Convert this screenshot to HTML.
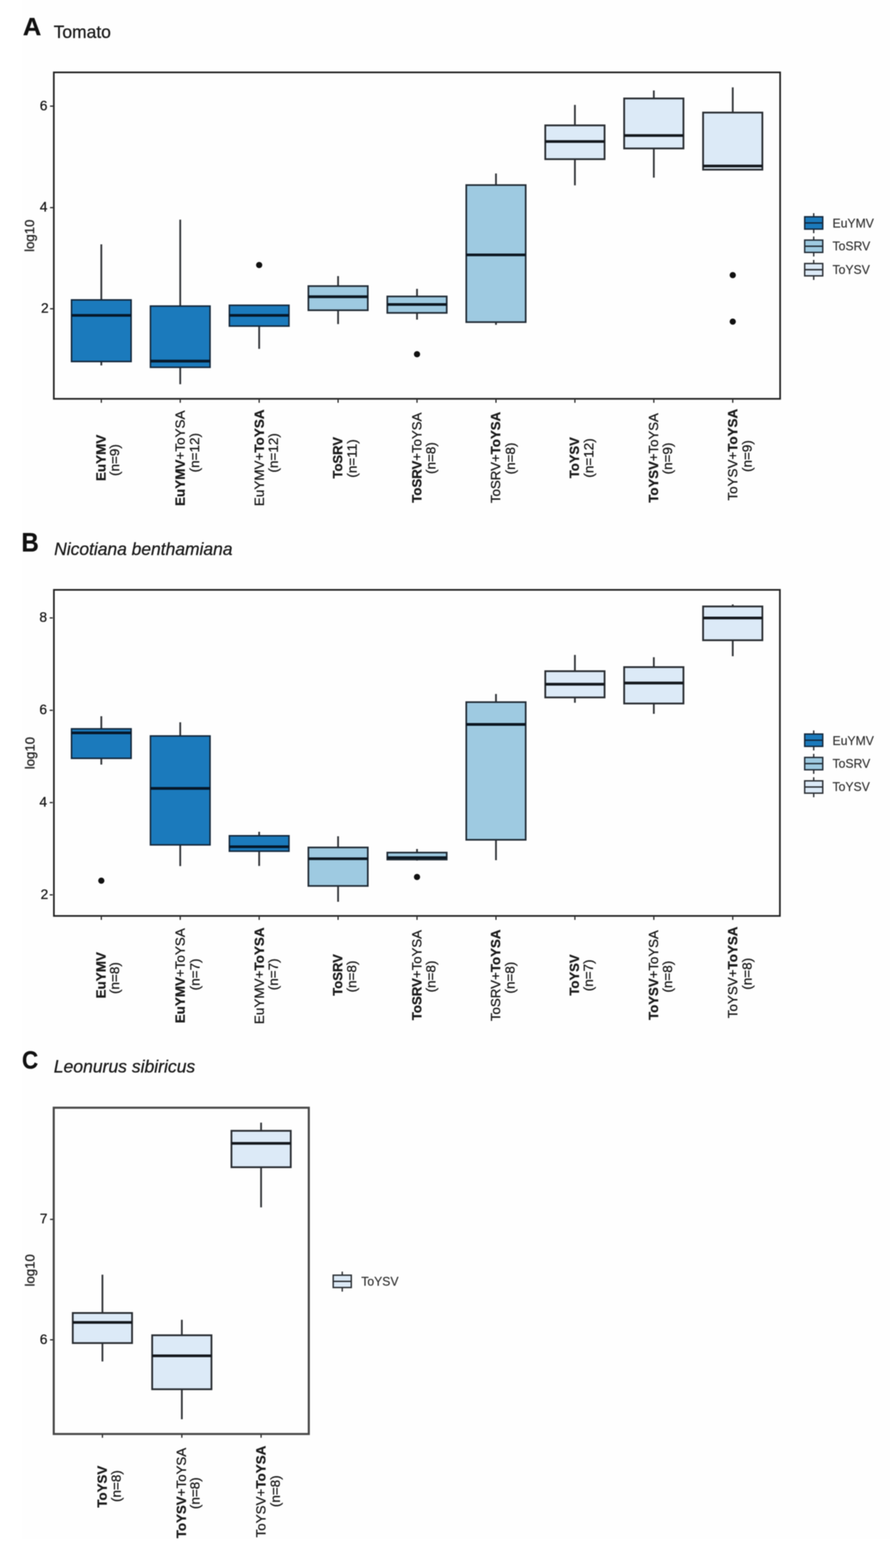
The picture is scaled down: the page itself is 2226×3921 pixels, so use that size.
<!DOCTYPE html>
<html lang="en">
<head>
<meta charset="utf-8">
<title>Viral titer boxplots: Tomato, Nicotiana benthamiana, Leonurus sibiricus</title>
<style>
html,body{margin:0;padding:0;background:#ffffff;}
body{width:2226px;height:3921px;overflow:hidden;}
svg{display:block;font-family:"Liberation Sans",Arial,Helvetica,sans-serif;}
#fig{filter:blur(0.9px);}
text{stroke:#1c1c1c;stroke-width:0.7px;paint-order:stroke fill;}
</style>
</head>
<body>
<svg width="2226" height="3921" viewBox="0 0 2226 3921">
<rect x="0" y="0" width="2226" height="3921" fill="#ffffff"/>
<rect x="56" y="0" width="2170" height="3848" fill="#fefefe"/>
<g id="fig">
<g id="panelA">
<text transform="translate(57.3 88.4) scale(1 1)" font-size="63.5" font-weight="bold" fill="#111">A</text>
<text x="134.3" y="94.8" font-size="43.6" fill="#1c1c1c">Tomato</text>
<line x1="253.4" y1="611.0" x2="253.4" y2="750.0" stroke="#34373b" stroke-width="4.5"/><line x1="253.4" y1="904.0" x2="253.4" y2="913.8" stroke="#34373b" stroke-width="4.5"/><rect x="178.9" y="750.0" width="149.0" height="154.0" fill="#1b7abc" stroke="#14283c" stroke-width="3.8"/><line x1="178.9" y1="788.7" x2="327.9" y2="788.7" stroke="#06182a" stroke-width="6.8"/>
<line x1="450.8" y1="549.2" x2="450.8" y2="765.4" stroke="#34373b" stroke-width="4.5"/><line x1="450.8" y1="918.5" x2="450.8" y2="960.8" stroke="#34373b" stroke-width="4.5"/><rect x="376.3" y="765.4" width="149.0" height="153.1" fill="#1b7abc" stroke="#14283c" stroke-width="3.8"/><line x1="376.3" y1="903.0" x2="525.3" y2="903.0" stroke="#06182a" stroke-width="6.8"/>
<line x1="648.2" y1="815.4" x2="648.2" y2="872.3" stroke="#34373b" stroke-width="4.5"/><rect x="573.7" y="763.4" width="149.0" height="52.0" fill="#1b7abc" stroke="#14283c" stroke-width="3.8"/><line x1="573.7" y1="788.7" x2="722.7" y2="788.7" stroke="#06182a" stroke-width="6.8"/><circle cx="648.2" cy="662.7" r="7.8" fill="#111"/>
<line x1="845.6" y1="690.4" x2="845.6" y2="715.4" stroke="#34373b" stroke-width="4.5"/><line x1="845.6" y1="775.8" x2="845.6" y2="810.4" stroke="#34373b" stroke-width="4.5"/><rect x="771.3" y="715.4" width="148.6" height="60.4" fill="#9ecae1" stroke="#222c36" stroke-width="4.2"/><line x1="771.3" y1="742.0" x2="919.9" y2="742.0" stroke="#0d1822" stroke-width="6.8"/>
<line x1="1043.0" y1="722.3" x2="1043.0" y2="741.3" stroke="#34373b" stroke-width="4.5"/><line x1="1043.0" y1="782.4" x2="1043.0" y2="799.2" stroke="#34373b" stroke-width="4.5"/><rect x="968.7" y="741.3" width="148.6" height="41.1" fill="#9ecae1" stroke="#222c36" stroke-width="4.2"/><line x1="968.7" y1="761.4" x2="1117.3" y2="761.4" stroke="#0d1822" stroke-width="6.8"/><circle cx="1043.0" cy="885.8" r="7.8" fill="#111"/>
<line x1="1240.5" y1="433.8" x2="1240.5" y2="462.8" stroke="#34373b" stroke-width="4.5"/><line x1="1240.5" y1="805.5" x2="1240.5" y2="812.3" stroke="#34373b" stroke-width="4.5"/><rect x="1166.2" y="462.8" width="148.6" height="342.7" fill="#9ecae1" stroke="#222c36" stroke-width="4.2"/><line x1="1166.2" y1="637.4" x2="1314.8" y2="637.4" stroke="#0d1822" stroke-width="6.8"/>
<line x1="1437.9" y1="262.3" x2="1437.9" y2="313.5" stroke="#34373b" stroke-width="4.5"/><line x1="1437.9" y1="398.0" x2="1437.9" y2="463.5" stroke="#34373b" stroke-width="4.5"/><rect x="1363.8" y="313.5" width="148.3" height="84.5" fill="#dceaf7" stroke="#2a2e33" stroke-width="4.5"/><line x1="1363.8" y1="353.8" x2="1512.1" y2="353.8" stroke="#14181d" stroke-width="6.8"/>
<line x1="1635.3" y1="226.2" x2="1635.3" y2="246.2" stroke="#34373b" stroke-width="4.5"/><line x1="1635.3" y1="371.2" x2="1635.3" y2="444.2" stroke="#34373b" stroke-width="4.5"/><rect x="1561.1" y="246.2" width="148.3" height="125.0" fill="#dceaf7" stroke="#2a2e33" stroke-width="4.5"/><line x1="1561.1" y1="338.8" x2="1709.5" y2="338.8" stroke="#14181d" stroke-width="6.8"/>
<line x1="1832.7" y1="218.5" x2="1832.7" y2="281.5" stroke="#34373b" stroke-width="4.5"/><rect x="1758.5" y="281.5" width="148.3" height="142.7" fill="#dceaf7" stroke="#2a2e33" stroke-width="4.5"/><line x1="1758.5" y1="415.2" x2="1906.9" y2="415.2" stroke="#14181d" stroke-width="6.8"/><circle cx="1832.7" cy="688.0" r="7.8" fill="#111"/><circle cx="1832.7" cy="804.2" r="7.8" fill="#111"/>
<rect x="134.6" y="181" width="1816.6" height="816.3" fill="none" stroke="#222222" stroke-width="4.2"/>
<line x1="125.19999999999999" y1="265.4" x2="132.7" y2="265.4" stroke="#222222" stroke-width="3"/>
<text x="118.69999999999999" y="275.6" font-size="34.5" text-anchor="end" fill="#1c1c1c">6</text>
<line x1="125.19999999999999" y1="519.2" x2="132.7" y2="519.2" stroke="#222222" stroke-width="3"/>
<text x="118.69999999999999" y="529.4" font-size="34.5" text-anchor="end" fill="#1c1c1c">4</text>
<line x1="125.19999999999999" y1="772.1" x2="132.7" y2="772.1" stroke="#222222" stroke-width="3"/>
<text x="121.69999999999999" y="782.3" font-size="34.5" text-anchor="end" fill="#1c1c1c">2</text>
<text transform="translate(85.3 589.5) rotate(-90)" font-size="33" text-anchor="middle" fill="#1c1c1c">log10</text>
<line x1="253.4" y1="999.2" x2="253.4" y2="1007.2" stroke="#222222" stroke-width="3"/>
<line x1="450.8" y1="999.2" x2="450.8" y2="1007.2" stroke="#222222" stroke-width="3"/>
<line x1="648.2" y1="999.2" x2="648.2" y2="1007.2" stroke="#222222" stroke-width="3"/>
<line x1="845.6" y1="999.2" x2="845.6" y2="1007.2" stroke="#222222" stroke-width="3"/>
<line x1="1043.0" y1="999.2" x2="1043.0" y2="1007.2" stroke="#222222" stroke-width="3"/>
<line x1="1240.5" y1="999.2" x2="1240.5" y2="1007.2" stroke="#222222" stroke-width="3"/>
<line x1="1437.9" y1="999.2" x2="1437.9" y2="1007.2" stroke="#222222" stroke-width="3"/>
<line x1="1635.3" y1="999.2" x2="1635.3" y2="1007.2" stroke="#222222" stroke-width="3"/>
<line x1="1832.7" y1="999.2" x2="1832.7" y2="1007.2" stroke="#222222" stroke-width="3"/>
<text transform="translate(264.4 1145.0) rotate(-90)" font-size="33.7" text-anchor="middle" fill="#1c1c1c"><tspan font-weight="bold">EuYMV</tspan></text>
<text transform="translate(298.4 1150.5) rotate(-90)" font-size="33.7" text-anchor="middle" fill="#1c1c1c">(n=9)</text>
<text transform="translate(461.8 1146.0) rotate(-90)" font-size="33.7" text-anchor="middle" fill="#1c1c1c"><tspan font-weight="bold">EuYMV</tspan>+ToYSA</text>
<text transform="translate(498.3 1132.0) rotate(-90)" font-size="33.7" text-anchor="middle" fill="#1c1c1c">(n=12)</text>
<text transform="translate(660.2 1144.8) rotate(-90)" font-size="33.7" text-anchor="middle" fill="#1c1c1c">EuYMV+<tspan font-weight="bold">ToYSA</tspan></text>
<text transform="translate(695.2 1132.5) rotate(-90)" font-size="33.7" text-anchor="middle" fill="#1c1c1c">(n=12)</text>
<text transform="translate(855.6 1144.7) rotate(-90)" font-size="32.5" text-anchor="middle" fill="#1c1c1c"><tspan font-weight="bold">ToSRV</tspan></text>
<text transform="translate(891.6 1146.5) rotate(-90)" font-size="33.7" text-anchor="middle" fill="#1c1c1c">(n=11)</text>
<text transform="translate(1053.7 1144.5) rotate(-90)" font-size="33.0" text-anchor="middle" fill="#1c1c1c"><tspan font-weight="bold">ToSRV</tspan>+ToYSA</text>
<text transform="translate(1089.2 1145.5) rotate(-90)" font-size="33.7" text-anchor="middle" fill="#1c1c1c">(n=8)</text>
<text transform="translate(1251.2 1144.0) rotate(-90)" font-size="33.16" text-anchor="middle" fill="#1c1c1c">ToSRV+<tspan font-weight="bold">ToYSA</tspan></text>
<text transform="translate(1287.5 1146.5) rotate(-90)" font-size="33.7" text-anchor="middle" fill="#1c1c1c">(n=8)</text>
<text transform="translate(1447.9 1144.5) rotate(-90)" font-size="32.5" text-anchor="middle" fill="#1c1c1c"><tspan font-weight="bold">ToYSV</tspan></text>
<text transform="translate(1483.9 1145.3) rotate(-90)" font-size="33.7" text-anchor="middle" fill="#1c1c1c">(n=12)</text>
<text transform="translate(1646.3 1145.1) rotate(-90)" font-size="32.94" text-anchor="middle" fill="#1c1c1c"><tspan font-weight="bold">ToYSV</tspan>+ToYSA</text>
<text transform="translate(1681.3 1146.5) rotate(-90)" font-size="33.7" text-anchor="middle" fill="#1c1c1c">(n=9)</text>
<text transform="translate(1843.7 1137.0) rotate(-90)" font-size="33.5" text-anchor="middle" fill="#1c1c1c">ToYSV+<tspan font-weight="bold">ToYSA</tspan></text>
<text transform="translate(1879.7 1140.5) rotate(-90)" font-size="33.7" text-anchor="middle" fill="#1c1c1c">(n=9)</text>
<line x1="2035.2" y1="533.1" x2="2035.2" y2="583.1" stroke="#2a2d31" stroke-width="3.4"/>
<rect x="2012.6000000000001" y="542.1" width="45.2" height="30.8" fill="#1b7abc" stroke="#14283c" stroke-width="3.5"/>
<line x1="2012.6000000000001" y1="557.5" x2="2057.8" y2="557.5" stroke="#14283c" stroke-width="3.6"/>
<text x="2082.3" y="569.3" font-size="30.5" fill="#333" style="stroke:#333;stroke-width:0.4px">EuYMV</text>
<line x1="2035.2" y1="591.4" x2="2035.2" y2="641.4" stroke="#2a2d31" stroke-width="3.4"/>
<rect x="2012.6000000000001" y="600.4" width="45.2" height="30.8" fill="#9ecae1" stroke="#222c36" stroke-width="3.5"/>
<line x1="2012.6000000000001" y1="615.8" x2="2057.8" y2="615.8" stroke="#222c36" stroke-width="3.6"/>
<text x="2082.3" y="626.4" font-size="30.5" fill="#333" style="stroke:#333;stroke-width:0.4px">ToSRV</text>
<line x1="2035.2" y1="650.0" x2="2035.2" y2="700.0" stroke="#2a2d31" stroke-width="3.4"/>
<rect x="2012.6000000000001" y="659.0" width="45.2" height="30.8" fill="#dceaf7" stroke="#2a2e33" stroke-width="3.5"/>
<line x1="2012.6000000000001" y1="674.4" x2="2057.8" y2="674.4" stroke="#2a2e33" stroke-width="3.6"/>
<text x="2082.3" y="684.8" font-size="30.5" fill="#333" style="stroke:#333;stroke-width:0.4px">ToYSV</text>
</g>
<g id="panelB">
<text transform="translate(53.8 1379.3) scale(0.94 1.04)" font-size="63.5" font-weight="bold" fill="#111">B</text>
<text x="135.5" y="1387.5" font-size="43.6" font-style="italic" fill="#1c1c1c">Nicotiana benthamiana</text>
<line x1="253.4" y1="1791.0" x2="253.4" y2="1822.6" stroke="#34373b" stroke-width="4.5"/><line x1="253.4" y1="1896.3" x2="253.4" y2="1912.0" stroke="#34373b" stroke-width="4.5"/><rect x="178.9" y="1822.6" width="149.0" height="73.7" fill="#1b7abc" stroke="#14283c" stroke-width="3.8"/><line x1="178.9" y1="1832.6" x2="327.9" y2="1832.6" stroke="#06182a" stroke-width="6.8"/><circle cx="253.4" cy="2202.3" r="7.8" fill="#111"/>
<line x1="450.8" y1="1806.2" x2="450.8" y2="1840.4" stroke="#34373b" stroke-width="4.5"/><line x1="450.8" y1="2112.7" x2="450.8" y2="2165.8" stroke="#34373b" stroke-width="4.5"/><rect x="376.3" y="1840.4" width="149.0" height="272.3" fill="#1b7abc" stroke="#14283c" stroke-width="3.8"/><line x1="376.3" y1="1971.5" x2="525.3" y2="1971.5" stroke="#06182a" stroke-width="6.8"/>
<line x1="648.2" y1="2080.0" x2="648.2" y2="2090.0" stroke="#34373b" stroke-width="4.5"/><line x1="648.2" y1="2128.5" x2="648.2" y2="2165.4" stroke="#34373b" stroke-width="4.5"/><rect x="573.7" y="2090.0" width="149.0" height="38.5" fill="#1b7abc" stroke="#14283c" stroke-width="3.8"/><line x1="573.7" y1="2117.3" x2="722.7" y2="2117.3" stroke="#06182a" stroke-width="6.8"/>
<line x1="845.6" y1="2091.2" x2="845.6" y2="2119.2" stroke="#34373b" stroke-width="4.5"/><line x1="845.6" y1="2215.4" x2="845.6" y2="2255.0" stroke="#34373b" stroke-width="4.5"/><rect x="771.3" y="2119.2" width="148.6" height="96.2" fill="#9ecae1" stroke="#222c36" stroke-width="4.2"/><line x1="771.3" y1="2147.3" x2="919.9" y2="2147.3" stroke="#0d1822" stroke-width="6.8"/>
<line x1="1043.0" y1="2123.0" x2="1043.0" y2="2132.0" stroke="#34373b" stroke-width="4.5"/><line x1="1043.0" y1="2149.4" x2="1043.0" y2="2152.0" stroke="#34373b" stroke-width="4.5"/><rect x="968.7" y="2132.0" width="148.6" height="17.4" fill="#9ecae1" stroke="#222c36" stroke-width="4.2"/><line x1="968.7" y1="2144.6" x2="1117.3" y2="2144.6" stroke="#0d1822" stroke-width="6.8"/><circle cx="1043.0" cy="2193.0" r="7.8" fill="#111"/>
<line x1="1240.5" y1="1735.4" x2="1240.5" y2="1755.8" stroke="#34373b" stroke-width="4.5"/><line x1="1240.5" y1="2100.0" x2="1240.5" y2="2151.0" stroke="#34373b" stroke-width="4.5"/><rect x="1166.2" y="1755.8" width="148.6" height="344.2" fill="#9ecae1" stroke="#222c36" stroke-width="4.2"/><line x1="1166.2" y1="1811.5" x2="1314.8" y2="1811.5" stroke="#0d1822" stroke-width="6.8"/>
<line x1="1437.9" y1="1637.7" x2="1437.9" y2="1678.4" stroke="#34373b" stroke-width="4.5"/><line x1="1437.9" y1="1744.0" x2="1437.9" y2="1757.3" stroke="#34373b" stroke-width="4.5"/><rect x="1363.8" y="1678.4" width="148.3" height="65.6" fill="#dceaf7" stroke="#2a2e33" stroke-width="4.5"/><line x1="1363.8" y1="1711.0" x2="1512.1" y2="1711.0" stroke="#14181d" stroke-width="6.8"/>
<line x1="1635.3" y1="1643.5" x2="1635.3" y2="1668.2" stroke="#34373b" stroke-width="4.5"/><line x1="1635.3" y1="1759.2" x2="1635.3" y2="1785.0" stroke="#34373b" stroke-width="4.5"/><rect x="1561.1" y="1668.2" width="148.3" height="91.0" fill="#dceaf7" stroke="#2a2e33" stroke-width="4.5"/><line x1="1561.1" y1="1708.0" x2="1709.5" y2="1708.0" stroke="#14181d" stroke-width="6.8"/>
<line x1="1832.7" y1="1511.5" x2="1832.7" y2="1516.5" stroke="#34373b" stroke-width="4.5"/><line x1="1832.7" y1="1601.0" x2="1832.7" y2="1641.0" stroke="#34373b" stroke-width="4.5"/><rect x="1758.5" y="1516.5" width="148.3" height="84.5" fill="#dceaf7" stroke="#2a2e33" stroke-width="4.5"/><line x1="1758.5" y1="1545.4" x2="1906.9" y2="1545.4" stroke="#14181d" stroke-width="6.8"/>
<rect x="134.8" y="1475.0" width="1815.8" height="815.4" fill="none" stroke="#222222" stroke-width="4.2"/>
<line x1="124.30000000000001" y1="1545.2" x2="131.8" y2="1545.2" stroke="#222222" stroke-width="3"/>
<text x="117.80000000000001" y="1555.4" font-size="34.5" text-anchor="end" fill="#1c1c1c">8</text>
<line x1="124.30000000000001" y1="1776.2" x2="131.8" y2="1776.2" stroke="#222222" stroke-width="3"/>
<text x="117.80000000000001" y="1786.4" font-size="34.5" text-anchor="end" fill="#1c1c1c">6</text>
<line x1="124.30000000000001" y1="2007.0" x2="131.8" y2="2007.0" stroke="#222222" stroke-width="3"/>
<text x="117.80000000000001" y="2017.2" font-size="34.5" text-anchor="end" fill="#1c1c1c">4</text>
<line x1="124.30000000000001" y1="2237.7" x2="131.8" y2="2237.7" stroke="#222222" stroke-width="3"/>
<text x="120.80000000000001" y="2247.9" font-size="34.5" text-anchor="end" fill="#1c1c1c">2</text>
<text transform="translate(86.3 1883.3) rotate(-90)" font-size="33" text-anchor="middle" fill="#1c1c1c">log10</text>
<line x1="253.4" y1="2292.3" x2="253.4" y2="2300.3" stroke="#222222" stroke-width="3"/>
<line x1="450.8" y1="2292.3" x2="450.8" y2="2300.3" stroke="#222222" stroke-width="3"/>
<line x1="648.2" y1="2292.3" x2="648.2" y2="2300.3" stroke="#222222" stroke-width="3"/>
<line x1="845.6" y1="2292.3" x2="845.6" y2="2300.3" stroke="#222222" stroke-width="3"/>
<line x1="1043.0" y1="2292.3" x2="1043.0" y2="2300.3" stroke="#222222" stroke-width="3"/>
<line x1="1240.5" y1="2292.3" x2="1240.5" y2="2300.3" stroke="#222222" stroke-width="3"/>
<line x1="1437.9" y1="2292.3" x2="1437.9" y2="2300.3" stroke="#222222" stroke-width="3"/>
<line x1="1635.3" y1="2292.3" x2="1635.3" y2="2300.3" stroke="#222222" stroke-width="3"/>
<line x1="1832.7" y1="2292.3" x2="1832.7" y2="2300.3" stroke="#222222" stroke-width="3"/>
<text transform="translate(264.4 2438.7) rotate(-90)" font-size="33.7" text-anchor="middle" fill="#1c1c1c"><tspan font-weight="bold">EuYMV</tspan></text>
<text transform="translate(298.4 2445.8) rotate(-90)" font-size="33.7" text-anchor="middle" fill="#1c1c1c">(n=8)</text>
<text transform="translate(461.5 2440.0) rotate(-90)" font-size="33.55" text-anchor="middle" fill="#1c1c1c"><tspan font-weight="bold">EuYMV</tspan>+ToYSA</text>
<text transform="translate(498.8 2436.7) rotate(-90)" font-size="33.7" text-anchor="middle" fill="#1c1c1c">(n=7)</text>
<text transform="translate(660.2 2440.0) rotate(-90)" font-size="33.7" text-anchor="middle" fill="#1c1c1c">EuYMV+<tspan font-weight="bold">ToYSA</tspan></text>
<text transform="translate(695.2 2436.5) rotate(-90)" font-size="33.7" text-anchor="middle" fill="#1c1c1c">(n=7)</text>
<text transform="translate(855.6 2438.0) rotate(-90)" font-size="32.6" text-anchor="middle" fill="#1c1c1c"><tspan font-weight="bold">ToSRV</tspan></text>
<text transform="translate(891.4 2441.8) rotate(-90)" font-size="33.7" text-anchor="middle" fill="#1c1c1c">(n=8)</text>
<text transform="translate(1053.7 2438.4) rotate(-90)" font-size="33.05" text-anchor="middle" fill="#1c1c1c"><tspan font-weight="bold">ToSRV</tspan>+ToYSA</text>
<text transform="translate(1089.2 2441.8) rotate(-90)" font-size="33.7" text-anchor="middle" fill="#1c1c1c">(n=8)</text>
<text transform="translate(1251.2 2439.0) rotate(-90)" font-size="33.3" text-anchor="middle" fill="#1c1c1c">ToSRV+<tspan font-weight="bold">ToYSA</tspan></text>
<text transform="translate(1287.0 2444.7) rotate(-90)" font-size="33.7" text-anchor="middle" fill="#1c1c1c">(n=8)</text>
<text transform="translate(1447.9 2438.1) rotate(-90)" font-size="32.7" text-anchor="middle" fill="#1c1c1c"><tspan font-weight="bold">ToYSV</tspan></text>
<text transform="translate(1483.4 2439.0) rotate(-90)" font-size="33.7" text-anchor="middle" fill="#1c1c1c">(n=7)</text>
<text transform="translate(1646.3 2438.4) rotate(-90)" font-size="33.05" text-anchor="middle" fill="#1c1c1c"><tspan font-weight="bold">ToYSV</tspan>+ToYSA</text>
<text transform="translate(1681.3 2442.3) rotate(-90)" font-size="33.7" text-anchor="middle" fill="#1c1c1c">(n=8)</text>
<text transform="translate(1843.7 2431.6) rotate(-90)" font-size="33.5" text-anchor="middle" fill="#1c1c1c">ToYSV+<tspan font-weight="bold">ToYSA</tspan></text>
<text transform="translate(1879.7 2435.1) rotate(-90)" font-size="33.7" text-anchor="middle" fill="#1c1c1c">(n=8)</text>
<line x1="2035.2" y1="1826.6" x2="2035.2" y2="1876.6" stroke="#2a2d31" stroke-width="3.4"/>
<rect x="2012.6000000000001" y="1835.6" width="45.2" height="30.8" fill="#1b7abc" stroke="#14283c" stroke-width="3.5"/>
<line x1="2012.6000000000001" y1="1851" x2="2057.8" y2="1851" stroke="#14283c" stroke-width="3.6"/>
<text x="2082.3" y="1862.8" font-size="30.5" fill="#333" style="stroke:#333;stroke-width:0.4px">EuYMV</text>
<line x1="2035.2" y1="1885.1" x2="2035.2" y2="1935.1" stroke="#2a2d31" stroke-width="3.4"/>
<rect x="2012.6000000000001" y="1894.1" width="45.2" height="30.8" fill="#9ecae1" stroke="#222c36" stroke-width="3.5"/>
<line x1="2012.6000000000001" y1="1909.5" x2="2057.8" y2="1909.5" stroke="#222c36" stroke-width="3.6"/>
<text x="2082.3" y="1920.1" font-size="30.5" fill="#333" style="stroke:#333;stroke-width:0.4px">ToSRV</text>
<line x1="2035.2" y1="1943.6" x2="2035.2" y2="1993.6" stroke="#2a2d31" stroke-width="3.4"/>
<rect x="2012.6000000000001" y="1952.6" width="45.2" height="30.8" fill="#dceaf7" stroke="#2a2e33" stroke-width="3.5"/>
<line x1="2012.6000000000001" y1="1968" x2="2057.8" y2="1968" stroke="#2a2e33" stroke-width="3.6"/>
<text x="2082.3" y="1978.4" font-size="30.5" fill="#333" style="stroke:#333;stroke-width:0.4px">ToYSV</text>
</g>
<g id="panelC">
<text transform="translate(55 2672.3) scale(0.88 1.0)" font-size="63.5" font-weight="bold" fill="#111">C</text>
<text x="134.5" y="2681.5" font-size="43.9" font-style="italic" fill="#1c1c1c">Leonurus sibiricus</text>
<line x1="256.2" y1="3187.5" x2="256.2" y2="3283.3" stroke="#34373b" stroke-width="4.5"/><line x1="256.2" y1="3358.5" x2="256.2" y2="3404.5" stroke="#34373b" stroke-width="4.5"/><rect x="182.0" y="3283.3" width="148.3" height="75.2" fill="#dceaf7" stroke="#2a2e33" stroke-width="4.5"/><line x1="182.0" y1="3306.8" x2="330.4" y2="3306.8" stroke="#14181d" stroke-width="6.8"/>
<line x1="454.8" y1="3300.3" x2="454.8" y2="3339.0" stroke="#34373b" stroke-width="4.5"/><line x1="454.8" y1="3474.0" x2="454.8" y2="3549.0" stroke="#34373b" stroke-width="4.5"/><rect x="380.6" y="3339.0" width="148.3" height="135.0" fill="#dceaf7" stroke="#2a2e33" stroke-width="4.5"/><line x1="380.6" y1="3390.3" x2="529.0" y2="3390.3" stroke="#14181d" stroke-width="6.8"/>
<line x1="653.0" y1="2807.3" x2="653.0" y2="2827.7" stroke="#34373b" stroke-width="4.5"/><line x1="653.0" y1="2918.8" x2="653.0" y2="3019.2" stroke="#34373b" stroke-width="4.5"/><rect x="578.9" y="2827.7" width="148.3" height="91.1" fill="#dceaf7" stroke="#2a2e33" stroke-width="4.5"/><line x1="578.9" y1="2859.2" x2="727.1" y2="2859.2" stroke="#14181d" stroke-width="6.8"/>
<rect x="134.4" y="2770" width="637.9" height="815.9" fill="none" stroke="#484848" stroke-width="5.2"/>
<line x1="125.19999999999999" y1="3049.2" x2="132.7" y2="3049.2" stroke="#222222" stroke-width="3"/>
<text x="118.69999999999999" y="3059.4" font-size="34.5" text-anchor="end" fill="#1c1c1c">7</text>
<line x1="125.19999999999999" y1="3350.4" x2="132.7" y2="3350.4" stroke="#222222" stroke-width="3"/>
<text x="118.69999999999999" y="3360.6" font-size="34.5" text-anchor="end" fill="#1c1c1c">6</text>
<text transform="translate(86.2 3176.7) rotate(-90)" font-size="33" text-anchor="middle" fill="#1c1c1c">log10</text>
<line x1="256.2" y1="3587.3" x2="256.2" y2="3595.3" stroke="#222222" stroke-width="3"/>
<line x1="454.8" y1="3587.3" x2="454.8" y2="3595.3" stroke="#222222" stroke-width="3"/>
<line x1="653.0" y1="3587.3" x2="653.0" y2="3595.3" stroke="#222222" stroke-width="3"/>
<text transform="translate(266.7 3717.7) rotate(-90)" font-size="33.2" text-anchor="middle" fill="#1c1c1c"><tspan font-weight="bold">ToYSV</tspan></text>
<text transform="translate(301.7 3716.2) rotate(-90)" font-size="33.7" text-anchor="middle" fill="#1c1c1c">(n=8)</text>
<text transform="translate(464.8 3733.5) rotate(-90)" font-size="33.3" text-anchor="middle" fill="#1c1c1c"><tspan font-weight="bold">ToYSV</tspan>+ToYSA</text>
<text transform="translate(499.3 3734.0) rotate(-90)" font-size="33.7" text-anchor="middle" fill="#1c1c1c">(n=8)</text>
<text transform="translate(664.3 3729.9) rotate(-90)" font-size="33.6" text-anchor="middle" fill="#1c1c1c">ToYSV+<tspan font-weight="bold">ToYSA</tspan></text>
<text transform="translate(699.5 3729.0) rotate(-90)" font-size="33.7" text-anchor="middle" fill="#1c1c1c">(n=8)</text>
<line x1="856" y1="3179.7999999999997" x2="856" y2="3229.7999999999997" stroke="#2a2d31" stroke-width="3.4"/>
<rect x="833.4" y="3188.7999999999997" width="45.2" height="30.8" fill="#dceaf7" stroke="#2a2e33" stroke-width="3.5"/>
<line x1="833.4" y1="3204.2" x2="878.6" y2="3204.2" stroke="#2a2e33" stroke-width="3.6"/>
<text x="903.5" y="3215.2" font-size="30.5" fill="#333" style="stroke:#333;stroke-width:0.4px">ToYSV</text>
</g>
</g>
</svg>
</body>
</html>
